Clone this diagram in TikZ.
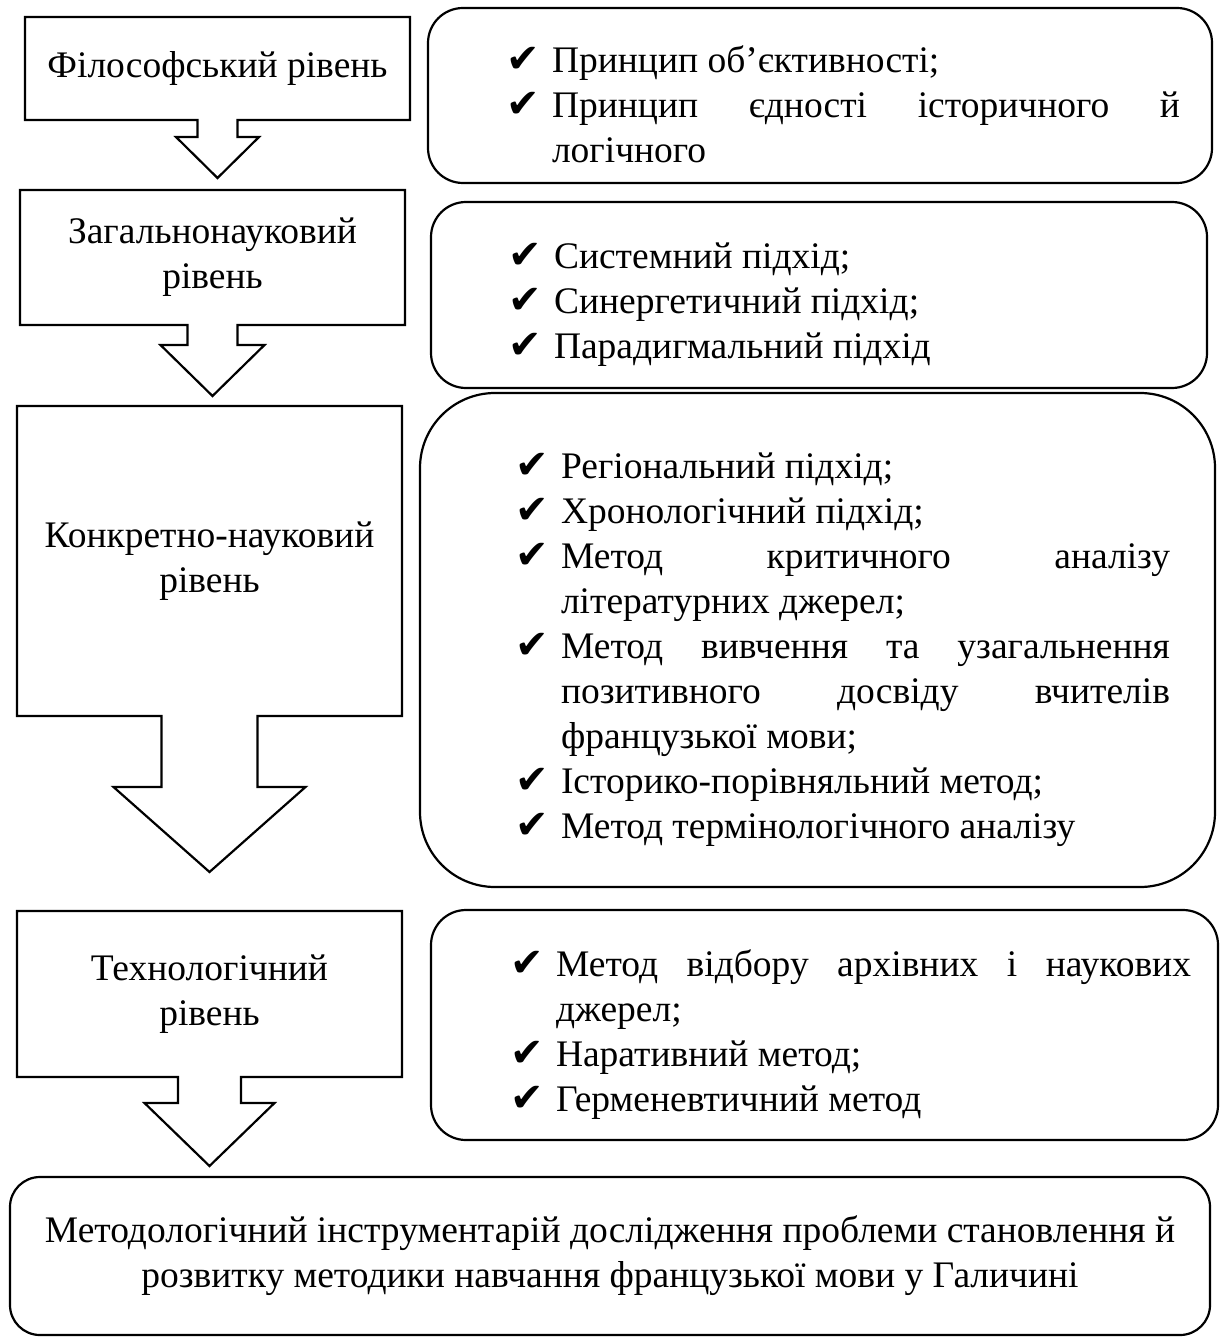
\documentclass[tikz,border=0pt]{standalone}
\usepackage{fontspec}
\setmainfont{Liberation Serif}
\newfontfamily\symfont{DejaVu Sans}
\usetikzlibrary{positioning}
\hyphenpenalty=10000
\exhyphenpenalty=10000
\newcommand{\mainsize}{\fontsize{37.5}{45}\selectfont}
\newcommand{\chk}{\par\noindent\hangindent=46pt\hangafter=1%
  \hbox to 46pt{{\symfont\fontsize{40}{40}\selectfont ✔}\hfil}}
% outline of a level box with its arrow below
\newcommand{\levelshape}[5]{%
  \draw[levelline] (#1.south west) -- (#1.north west) -- (#1.north east) -- (#1.south east)
    -- ([xshift=#2]#1.south) -- ++(0,#3) -- ++({#4-#2},0) -- ++(-#4,#5)
    -- ++(-#4,-#5) -- ++({#4-#2},0) -- ++(0,-#3) -- cycle;}
\tikzset{%
  levelbox/.style={minimum width=385,outer sep=0pt,inner sep=0pt,
    align=center,anchor=north west,font=\mainsize},
  levelline/.style={line width=2.2pt,line join=miter},
  listbox/.style={draw,line width=2.2pt,rounded corners=35pt,outer sep=0pt,
    anchor=north west},
  listtext/.style={inner sep=0pt,outer sep=0pt,align=justify,anchor=west,
    font=\mainsize}
}
\begin{document}
\begin{tikzpicture}[x=1pt,y=-1pt]
  \useasboundingbox (0,0) rectangle (1222,1337);
  % levels
  \node[levelbox, minimum height=103] (phil) at (25,17) {Філософський рівень};
  \node[levelbox, minimum height=135] (gensci) at (20,190) {Загальнонауковий\\рівень};
  \node[levelbox, minimum height=310] (concsci) at (17,406) {Конкретно-науковий\\рівень};
  \node[levelbox, minimum height=166] (tech) at (17,911) {Технологічний\\рівень};
  \levelshape{phil}{20}{17}{41.5}{41}
  \levelshape{gensci}{25}{20}{52}{51}
  \levelshape{concsci}{48}{71}{96}{85}
  \levelshape{tech}{31.5}{26}{65}{63}
  % lists
  \node[listbox, minimum width=784, minimum height=175] (philbox) at (428,8) {};
  \node[listtext, text width=674] (philitems) at ([xshift=78]philbox.west)
    {\chk Принцип об’єктивності;
     \chk Принцип єдності історичного й\linebreak логічного\par};
  \node[listbox, minimum width=776, minimum height=186] (genbox) at (431,202) {};
  \node[listtext, text width=660] (genitems) at ([xshift=77]genbox.west)
    {\chk Системний підхід;
     \chk Синергетичний підхід;
     \chk Парадигмальний підхід\par};
  \node[listbox, minimum width=795, minimum height=494, rounded corners=75pt] (concbox) at (420,393) {};
  \node[listtext, text width=655] (concitems) at ([xshift=95]concbox.west)
    {\chk Регіональний підхід;
     \chk Хронологічний підхід;
     \chk Метод критичного аналізу\linebreak літературних джерел;
     \chk Метод вивчення та узагальнення\linebreak позитивного досвіду вчителів\linebreak французької мови;
     \chk Історико-порівняльний метод;
     \chk Метод термінологічного аналізу\par};
  \node[listbox, minimum width=787, minimum height=230] (techbox) at (431,910) {};
  \node[listtext, text width=681] (techitems) at ([xshift=79]techbox.west)
    {\chk Метод відбору архівних і наукових\linebreak джерел;
     \chk Наративний метод;
     \chk Герменевтичний метод\par};
  % result
  \node[listbox, minimum width=1200, minimum height=158, rounded corners=30pt,
    align=center, font=\mainsize] (result) at (10,1177)
    {Методологічний інструментарій дослідження проблеми становлення й\\
     розвитку методики навчання французької мови у Галичині};
\end{tikzpicture}
\end{document}
